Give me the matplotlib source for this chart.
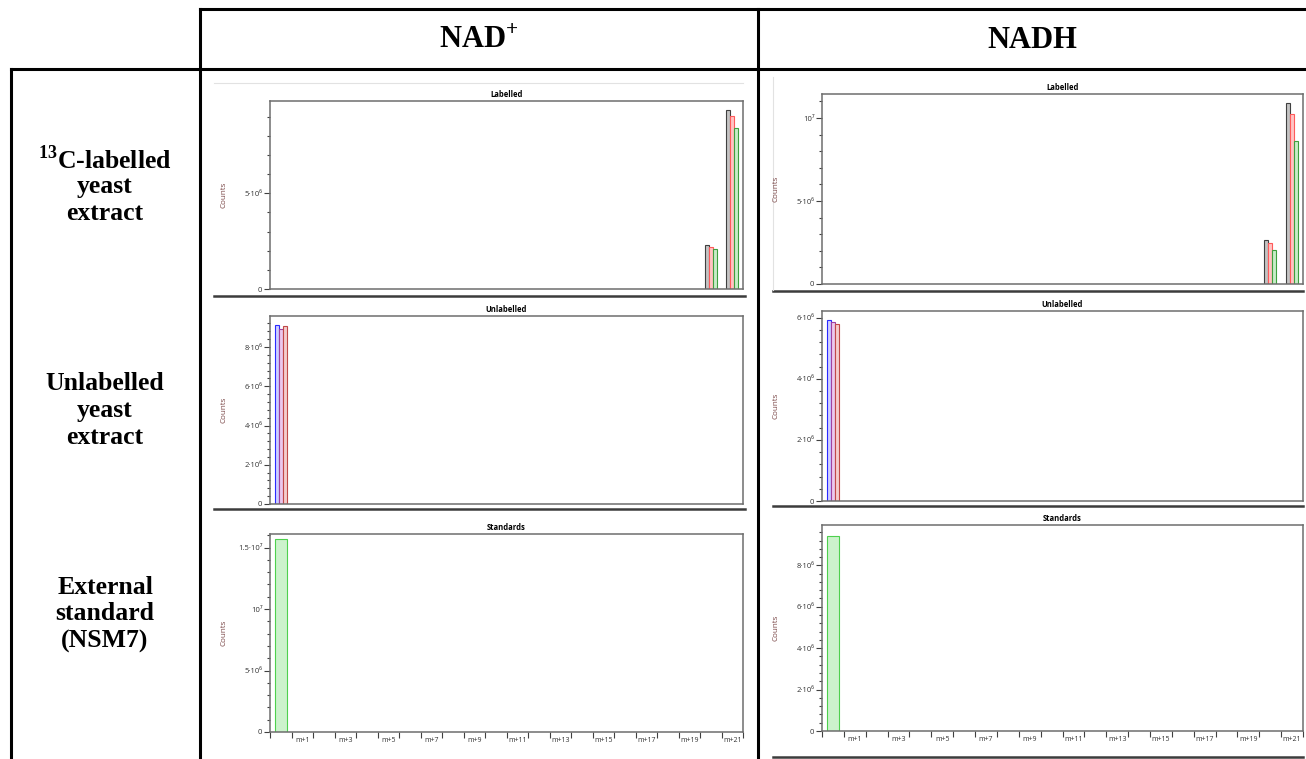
import matplotlib.pyplot as plt
from matplotlib.ticker import MultipleLocator

W, H = 1306, 759

# isotopologue axis (NAD has 21 carbons)
isotopologues = ["m+0", "m+1", "m+2", "m+3", "m+4", "m+5", "m+6", "m+7", "m+8", "m+9", "m+10",
                 "m+11", "m+12", "m+13", "m+14", "m+15", "m+16", "m+17", "m+18", "m+19", "m+20", "m+21"]
xtick_labels = ["m+1", "m+3", "m+5", "m+7", "m+9", "m+11", "m+13", "m+15", "m+17", "m+19", "m+21"]

columns = ["NAD$^{\\mathbf{+}}$", "NADH"]
row_labels = [["$^{\\mathbf{13}}$C-labelled", "yeast", "extract"],
              ["Unlabelled", "yeast", "extract"],
              ["External", "standard", "(NSM7)"]]
panel_titles = ["Labelled", "Unlabelled", "Standards"]

# Labelled extract, three replicates (counts)
lab_iso = ["m+20", "m+21"]
nad_lab = [[2.29e6, 9.38e6], [2.19e6, 9.05e6], [2.08e6, 8.42e6]]
nadh_lab = [[2.64e6, 10.93e6], [2.47e6, 10.24e6], [2.07e6, 8.59e6]]

# Unlabelled extract, three replicates
unlab_iso = ["m+0"]
nad_unlab = [[9.14e6], [8.93e6], [9.05e6]]
nadh_unlab = [[5.94e6], [5.87e6], [5.81e6]]

# External standard
std_iso = ["m+0"]
nad_std = [[15.7e6]]
nadh_std = [[9.40e6]]

lab_colors = [("#c4c4c4", "#404040"), ("#ffc4c4", "#ff5a5a"), ("#c8ecc8", "#3ea03e")]
unlab_colors = [("#cfcfff", "#2b2bff"), ("#ecc8ec", "#a040a0"), ("#f4cccc", "#c04848")]
std_colors = [("#ccf2cc", "#4ed04e")]

plt.rcParams['mathtext.fontset'] = 'custom'
plt.rcParams['mathtext.rm'] = 'Liberation Serif'
plt.rcParams['mathtext.bf'] = 'Liberation Serif:bold'

fig = plt.figure(figsize=(W / 100, H / 100), dpi=100)
bg = fig.add_axes([0, 0, 1, 1], zorder=0)
bg.set_xlim(0, W)
bg.set_ylim(H, 0)
bg.axis('off')

# table grid
tk = dict(color='black', lw=2.2, solid_capstyle='projecting')
bg.plot([200, W], [9, 9], **tk)
bg.plot([11, W], [69, 69], **tk)
bg.plot([200, 200], [9, H], **tk)
bg.plot([758, 758], [9, H], **tk)
bg.plot([11, 11], [69, H], **tk)

serif = dict(family='Liberation Serif', fontweight='bold', ha='center', va='center')
bg.text(479, 40, columns[0], fontsize=22, **serif)
bg.text(1032, 40, columns[1], fontsize=22, **serif)

row_y = [[160, 187, 214], [384, 411, 438], [587, 614, 641]]
for lines, ys in zip(row_labels, row_y):
    for txt, y in zip(lines, ys):
        bg.text(105, y, txt, fontsize=18.5, **serif)

# screenshot edges / separators
sep = dict(color='#3c3c3c', lw=1.8)
bg.plot([214, 745], [296, 296], **sep)
bg.plot([214, 745], [509, 509], **sep)
bg.plot([773, 1303], [291, 291], **sep)
bg.plot([773, 1303], [506, 506], **sep)
bg.plot([773, 1303], [757, 757], **sep)
bg.plot([214, 743], [82.5, 82.5], color='#e2e2e2', lw=0.8)
bg.plot([773, 773], [77, 290], color='#e2e2e2', lw=0.8)

small = ['Open Sans', 'DejaVu Sans']


def panel(box, title, iso, reps, colors, width, ymax, major, labels, minor, xlabels=False):
    left, top, right, bottom = box
    ax = fig.add_axes([left / W, 1 - bottom / H, (right - left) / W, (bottom - top) / H], zorder=2)
    n = len(reps)
    xs = [isotopologues.index(i) for i in iso]
    for k, (vals, (fc, ec)) in enumerate(zip(reps, colors)):
        off = (k - (n - 1) / 2) * width
        ax.bar([x + off for x in xs], vals, width=width, color=fc, edgecolor=ec, linewidth=0.8)
    ax.set_xlim(-0.5, len(isotopologues) - 0.5)
    ax.set_ylim(0, ymax)
    ax.set_yticks(major)
    ax.set_yticklabels(labels, family=small)
    ax.yaxis.set_minor_locator(MultipleLocator(minor))
    ax.tick_params(axis='y', which='major', length=4, width=0.8, color='#404040',
                   labelcolor='#333333', labelsize=5.5, pad=1.5)
    ax.tick_params(axis='y', which='minor', length=2.2, width=0.8, color='#404040')
    if xlabels:
        ax.set_xticks([i - 0.5 for i in range(len(isotopologues) + 1)])
        ax.set_xticklabels([])
        ax.set_xticks([isotopologues.index(l) for l in xtick_labels], minor=True)
        ax.set_xticklabels(xtick_labels, minor=True, family=small)
        ax.tick_params(axis='x', which='major', length=4, width=0.8, color='#404040')
        ax.tick_params(axis='x', which='minor', length=0, labelsize=5,
                       labelcolor='#333333', pad=3.5)
    else:
        ax.set_xticks([])
    for s in ax.spines.values():
        s.set_color('#6e6e6e')
        s.set_linewidth(1.1)
    ax.set_title(title, fontsize=5.5, fontweight='bold', pad=3, family=small)
    ax.set_ylabel("Counts", fontsize=5.8, color='#7a4646', family=small)
    ax.yaxis.set_label_coords(-43 / (right - left), 0.5)
    return ax


panel((270, 101, 743, 289), panel_titles[0], lab_iso, nad_lab, lab_colors, 0.18, 9.83e6,
      [0, 5e6], ["0", "5·10⁶"], 1e6)
panel((822, 94, 1303, 284), panel_titles[0], lab_iso, nadh_lab, lab_colors, 0.19, 11.45e6,
      [0, 5e6, 1e7], ["0", "5·10⁶", "10⁷"], 1e6)
panel((270, 316, 743, 504), panel_titles[1], unlab_iso, nad_unlab, unlab_colors, 0.18, 9.58e6,
      [0, 2e6, 4e6, 6e6, 8e6], ["0", "2·10⁶", "4·10⁶", "6·10⁶", "8·10⁶"], 0.4e6)
panel((822, 311, 1303, 501), panel_titles[1], unlab_iso, nadh_unlab, unlab_colors, 0.19, 6.22e6,
      [0, 2e6, 4e6, 6e6], ["0", "2·10⁶", "4·10⁶", "6·10⁶"], 0.4e6)
panel((270, 534, 743, 732), panel_titles[2], std_iso, nad_std, std_colors, 0.55, 16.1e6,
      [0, 5e6, 1e7, 1.5e7], ["0", "5·10⁶", "10⁷", "1.5·10⁷"], 1e6, xlabels=True)
panel((822, 525, 1303, 731), panel_titles[2], std_iso, nadh_std, std_colors, 0.57, 9.95e6,
      [0, 2e6, 4e6, 6e6, 8e6], ["0", "2·10⁶", "4·10⁶", "6·10⁶", "8·10⁶"], 0.4e6, xlabels=True)

fig.savefig("out.png", dpi=100)
